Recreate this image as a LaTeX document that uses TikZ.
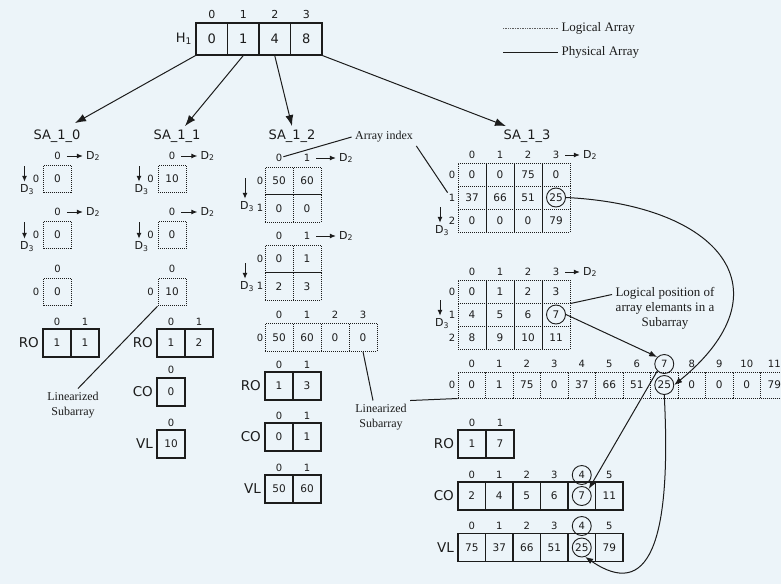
\documentclass[tikz,border=0pt]{standalone}
\usepackage{fontspec}
\setmainfont{Liberation Serif}
\setsansfont{DejaVu Sans}
\usepackage{xcolor}
\usepackage{tikz}
\usetikzlibrary{arrows.meta, positioning, calc}

\definecolor{paper}{RGB}{236,244,249}
\definecolor{ink}{RGB}{28,28,28}

\begin{document}
\begin{tikzpicture}[
    x=1pt, y=-1pt,
    >={Latex[length=8pt,width=6pt]},
    conn/.style={draw=ink, line width=1pt},
    pcell/.style={rectangle, draw=ink, line width=1.2pt, minimum width=28pt, minimum height=28pt, inner sep=0pt, text=ink, font=\sffamily\fontsize{10.5}{12}\selectfont},
    hcell/.style={pcell, minimum width=31.5pt, minimum height=32pt, font=\sffamily\fontsize{13}{15}\selectfont},
    lcell/.style={rectangle, draw=ink, densely dotted, line width=1pt, minimum width=28pt, minimum height=27.5pt, inner sep=0pt, text=ink, font=\sffamily\fontsize{10.5}{12}\selectfont},
    idx/.style={inner sep=1pt, text=ink, font=\sffamily\fontsize{10}{11}\selectfont},
    satitle/.style={text=ink, font=\sffamily\fontsize{13}{15}\selectfont},
    plab/.style={text=ink, font=\sffamily\fontsize{13.5}{15}\selectfont},
    dlab/.style={inner sep=1pt, text=ink, font=\sffamily\fontsize{11}{13}\selectfont},
    darrow/.style={draw=ink, line width=1pt, -{Latex[length=6pt,width=5pt]}, shorten >=2pt},
    annot/.style={align=center, text=ink, font=\rmfamily\fontsize{12}{15}\selectfont},
    ring/.style={circle, draw=ink, line width=0.9pt, minimum size=19pt, inner sep=0pt}
]
\fill[paper] (0,0) rectangle (781,584);
\clip (0,0) rectangle (781,584);

% Legend
\node[annot, anchor=west, font=\rmfamily\fontsize{13}{15}\selectfont] (leglog) at (558,28) {Logical Array};
\node[annot, anchor=west, font=\rmfamily\fontsize{13}{15}\selectfont] (legphy) at (558,52) {Physical Array};
\coordinate (leglog-s) at (503,28);
\coordinate (legphy-s) at (503,52);
\draw[conn, draw=ink!70, line width=0.7pt, densely dotted] (leglog-s) -- (leglog.west);
\draw[conn] (legphy-s) -- (legphy.west);

% H1 header array
\foreach \v [count=\i from 0] in {0,1,4,8} {
    \node[hcell] (h1-\i) at ({211.75+31.5*\i},39) {\v};
    \node[idx, font=\sffamily\fontsize{11}{13}\selectfont] (h1-i\i) at ({211.75+31.5*\i},14) {\i};
}
\node[satitle, left=0pt of h1-0] (h1) {H\textsubscript{1}};

% Subarray titles
\node[satitle] (sa0) at (57,136) {SA\_1\_0};
\node[satitle] (sa1) at (177,136) {SA\_1\_1};
\node[satitle] (sa2) at (292,136) {SA\_1\_2};
\node[satitle] (sa3) at (527,136) {SA\_1\_3};
\draw[conn, -{Latex[length=11pt,width=8pt]}] (h1-0.south west) -- ([xshift=-9pt,yshift=3pt]sa0.north east);
\draw[conn, -{Latex[length=11pt,width=8pt]}] (h1-1.south) -- ([xshift=8pt]sa1.north);
\draw[conn, -{Latex[length=11pt,width=8pt]}] (h1-2.south) -- (sa2.north);
\draw[conn, -{Latex[length=11pt,width=8pt]}] (h1-3.south east) -- ([xshift=6pt]sa3.north west);

% 1. SA_1_0 and SA_1_1 (1x1 subarrays)
\foreach \s/\x/\va/\vb/\vc in {0/57.5/0/0/0, 1/172/10/0/10} {
    \node[lcell] (s\s-a) at (\x,179) {\va};
    \node[idx] (s\s-a-c0) at (\x,156) {0};
    \node[idx] (s\s-a-r0) at (\x-21.5,179) {0};
    \node[dlab] (s\s-a-d2) at (\x+35.5,156) {D\textsubscript{2}};
    \node[dlab] (s\s-a-d3) at (\x-30.5,190) {D\textsubscript{3}};
    \coordinate (s\s-a-dn) at (\x-33,166);
    \draw[darrow, shorten <=5pt] (s\s-a-c0) -- (s\s-a-d2);
    \draw[darrow] (s\s-a-dn) -- (s\s-a-dn |- s\s-a-d3.north);

    \node[lcell] (s\s-b) at (\x,235) {\vb};
    \node[idx] (s\s-b-c0) at (\x,212) {0};
    \node[idx] (s\s-b-r0) at (\x-21.5,235) {0};
    \node[dlab] (s\s-b-d2) at (\x+35.5,212) {D\textsubscript{2}};
    \node[dlab] (s\s-b-d3) at (\x-30.5,247) {D\textsubscript{3}};
    \coordinate (s\s-b-dn) at (\x-33,222);
    \draw[darrow, shorten <=5pt] (s\s-b-c0) -- (s\s-b-d2);
    \draw[darrow] (s\s-b-dn) -- (s\s-b-dn |- s\s-b-d3.north);

    \node[lcell] (s\s-c) at (\x,292) {\vc};
    \node[idx] (s\s-c-c0) at (\x,269) {0};
    \node[idx] (s\s-c-r0) at (\x-21.5,292) {0};
}

% physical arrays of SA_1_0
\foreach \v [count=\i from 0] in {1,1} {
    \node[pcell] (s0ro-\i) at ({57+28*\i},343) {\v};
    \node[idx] (s0ro-i\i) at ({57+28*\i},322) {\i};
}
\node[plab, left=0pt of s0ro-0] (s0ro) {RO};

% physical arrays of SA_1_1
\foreach \v [count=\i from 0] in {1,2} {
    \node[pcell] (s1ro-\i) at ({171+28*\i},343) {\v};
    \node[idx] (s1ro-i\i) at ({171+28*\i},322) {\i};
}
\node[plab, left=0pt of s1ro-0] (s1ro) {RO};
\node[pcell] (s1co-0) at (171,392) {0};
\node[idx] (s1co-i0) at (171,370) {0};
\node[plab, left=0pt of s1co-0] (s1co) {CO};
\node[pcell] (s1vl-0) at (171,444) {10};
\node[idx] (s1vl-i0) at (171,423) {0};
\node[plab, left=0pt of s1vl-0] (s1vl) {VL};

\node[annot] (lin1) at (73,405) {Linearized\\Subarray};
\draw[conn] ([xshift=5pt]lin1.north) -- (s1-c.south west);

% 2. SA_1_2 (2x2 subarray)
\foreach \vals [count=\rw from 0] in {{50,60},{0,0}} {
    \foreach \v [count=\cl from 0] in \vals
        \node[lcell] (s2a-\rw-\cl) at ({279+28*\cl},{180.75+27.5*\rw}) {\v};
    \node[idx] (s2a-r\rw) at (260,{180.75+27.5*\rw}) {\rw};
}
\foreach \cl in {0,1}
    \node[idx] (s2a-c\cl) at ({279+28*\cl},158) {\cl};
\node[dlab] (s2a-d2) at (346,158) {D\textsubscript{2}};
\node[dlab] (s2a-d3) at (247,207) {D\textsubscript{3}};
\coordinate (s2a-dn) at (245,178);
\draw[darrow, shorten <=5pt] (s2a-c1) -- (s2a-d2);
\draw[darrow] (s2a-dn) -- (s2a-dn |- s2a-d3.north);

\foreach \vals [count=\rw from 0] in {{0,1},{2,3}} {
    \foreach \v [count=\cl from 0] in \vals
        \node[lcell] (s2b-\rw-\cl) at ({279+28*\cl},{258.75+27.5*\rw}) {\v};
    \node[idx] (s2b-r\rw) at (260,{258.75+27.5*\rw}) {\rw};
}
\foreach \cl in {0,1}
    \node[idx] (s2b-c\cl) at ({279+28*\cl},236) {\cl};
\node[dlab] (s2b-d2) at (346,236) {D\textsubscript{2}};
\node[dlab] (s2b-d3) at (247,287) {D\textsubscript{3}};
\coordinate (s2b-dn) at (245,263);
\draw[darrow, shorten <=5pt] (s2b-c1) -- (s2b-d2);
\draw[darrow] (s2b-dn) -- (s2b-dn |- s2b-d3.north);

\foreach \v [count=\cl from 0] in {50,60,0,0} {
    \node[lcell] (s2c-\cl) at ({279+28*\cl},337.5) {\v};
    \node[idx] (s2c-c\cl) at ({279+28*\cl},315) {\cl};
}
\node[idx] (s2c-r0) at (260,337.5) {0};

% physical arrays of SA_1_2
\foreach \v [count=\i from 0] in {1,3} {
    \node[pcell] (s2ro-\i) at ({279+28*\i},386) {\v};
    \node[idx] (s2ro-i\i) at ({279+28*\i},365) {\i};
}
\node[plab, left=0pt of s2ro-0] (s2ro) {RO};
\foreach \v [count=\i from 0] in {0,1} {
    \node[pcell] (s2co-\i) at ({279+28*\i},437) {\v};
    \node[idx] (s2co-i\i) at ({279+28*\i},416) {\i};
}
\node[plab, left=0pt of s2co-0] (s2co) {CO};
\foreach \v [count=\i from 0] in {50,60} {
    \node[pcell] (s2vl-\i) at ({279+28*\i},489) {\v};
    \node[idx] (s2vl-i\i) at ({279+28*\i},468) {\i};
}
\node[plab, left=0pt of s2vl-0] (s2vl) {VL};

\node[annot] (aidx) at (384,137) {Array index};
\node[annot] (lin2) at (381,417) {Linearized\\Subarray};
\draw[conn] ([xshift=-8pt]lin2.north) -- (s2c-3.south);

% 3. SA_1_3 (3x4 subarray)
\foreach \vals [count=\rw from 0] in {{0,0,75,0},{37,66,51,25},{0,0,0,79}} {
    \foreach \v [count=\cl from 0] in \vals
        \node[lcell, minimum height=23pt] (s3a-\rw-\cl) at ({472+28*\cl},{174.5+23*\rw}) {\v};
    \node[idx] (s3a-r\rw) at (452,{174.5+23*\rw}) {\rw};
}
\foreach \cl in {0,...,3}
    \node[idx] (s3a-c\cl) at ({472+28*\cl},155) {\cl};
\node[dlab] (s3a-d2) at (590,155) {D\textsubscript{2}};
\node[dlab] (s3a-d3) at (442,231) {D\textsubscript{3}};
\coordinate (s3a-dn) at (440,207);
\draw[darrow, shorten <=5pt] (s3a-c3) -- (s3a-d2);
\draw[darrow] (s3a-dn) -- (s3a-dn |- s3a-d3.north);
\node[ring] (s3a-ring) at (s3a-1-3) {};

\foreach \vals [count=\rw from 0] in {{0,1,2,3},{4,5,6,7},{8,9,10,11}} {
    \foreach \v [count=\cl from 0] in \vals
        \node[lcell, minimum height=23pt] (s3b-\rw-\cl) at ({472+28*\cl},{291.5+23*\rw}) {\v};
    \node[idx] (s3b-r\rw) at (452,{291.5+23*\rw}) {\rw};
}
\foreach \cl in {0,...,3}
    \node[idx] (s3b-c\cl) at ({472+28*\cl},272) {\cl};
\node[dlab] (s3b-d2) at (590,272) {D\textsubscript{2}};
\node[dlab] (s3b-d3) at (442,324) {D\textsubscript{3}};
\coordinate (s3b-dn) at (440,300);
\draw[darrow, shorten <=5pt] (s3b-c3) -- (s3b-d2);
\draw[darrow] (s3b-dn) -- (s3b-dn |- s3b-d3.north);
\node[ring] (s3b-ring) at (s3b-1-3) {};

% linearized SA_1_3
\foreach \v [count=\cl from 0] in {0,1,75,0,37,66,51,25,0,0,0,79} {
    \node[lcell, minimum width=27.5pt, minimum height=26pt] (s3l-\cl) at ({471.75+27.5*\cl},385) {\v};
    \node[idx] (s3l-c\cl) at ({471.75+27.5*\cl},364) {\cl};
}
\node[idx] (s3l-r0) at (452,385) {0};
\node[ring] (s3l-ri) at (s3l-c7) {};
\node[ring] (s3l-rv) at (s3l-7) {};

% physical arrays of SA_1_3
\foreach \v [count=\i from 0] in {1,7} {
    \node[pcell] (s3ro-\i) at ({472+28*\i},444) {\v};
    \node[idx] (s3ro-i\i) at ({472+28*\i},423) {\i};
}
\node[plab, left=0pt of s3ro-0] (s3ro) {RO};
\foreach \v [count=\i from 0] in {2,4,5,6,7,11} {
    \node[pcell, minimum width=27.5pt] (s3co-\i) at ({471.75+27.5*\i},496) {\v};
    \node[idx] (s3co-i\i) at ({471.75+27.5*\i},475) {\i};
}
\node[plab, left=0pt of s3co-0] (s3co) {CO};
\node[ring] (s3co-ri) at (s3co-i4) {};
\node[ring] (s3co-rv) at (s3co-4) {};
\foreach \v [count=\i from 0] in {75,37,66,51,25,79} {
    \node[pcell, minimum width=27.5pt] (s3vl-\i) at ({471.75+27.5*\i},547.5) {\v};
    \node[idx] (s3vl-i\i) at ({471.75+27.5*\i},526) {\i};
}
\node[plab, left=0pt of s3vl-0] (s3vl) {VL};
\node[ring] (s3vl-ri) at (s3vl-i4) {};
\node[ring] (s3vl-rv) at (s3vl-4) {};

\node[annot, font=\rmfamily\fontsize{13}{15}\selectfont] (logpos) at (665,308) {Logical position of\\array elemants in a\\Subarray};

% Connectors
\draw[conn] (aidx.west) -- (s2a-c0);
\draw[conn] (aidx.south east) -- (s3a-r1.north west);
\draw[conn] (lin2.north east) -- (s3l-0.south west);
\draw[conn] (s3b-0-3.south east) -- ([yshift=-11pt]logpos.north west);
\draw[conn, ->] (s3b-ring.east) -- (s3l-ri.north west);
\draw[conn, ->] (s3a-ring.east) .. controls (720,205) and (790,290) .. (s3l-rv.east);
\draw[conn, ->] (s3l-ri.south west) -- (s3co-rv.north east);
\draw[conn, ->] (s3l-rv.south) .. controls (672,545) and (648,600) .. (s3vl-rv.-70);

\end{tikzpicture}
\end{document}
